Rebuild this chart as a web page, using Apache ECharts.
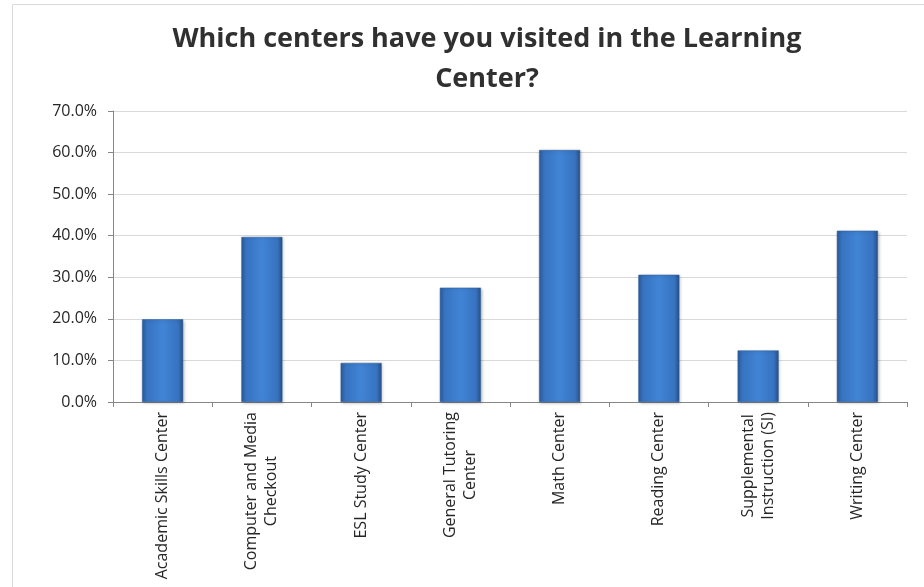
<!DOCTYPE html>
<html>
<head>
<meta charset="utf-8">
<script src="https://cdn.jsdelivr.net/npm/echarts@6/dist/echarts.min.js"></script>
<style>
html,body{margin:0;padding:0;background:#fff;}
#c{width:924px;height:587px;}
</style>
</head>
<body>
<div id="c"></div>
<script>
var categories = [
  "Academic Skills Center",
  "Computer and Media\nCheckout",
  "ESL Study Center",
  "General Tutoring\nCenter",
  "Math Center",
  "Reading Center",
  "Supplemental\nInstruction (SI)",
  "Writing Center"
];
var values = [19.9, 39.7, 9.4, 27.5, 60.6, 30.6, 12.4, 41.2];
var yTicks = [0, 10, 20, 30, 40, 50, 60, 70];
var titleText = "Which centers have you visited in the Learning\nCenter?";

var chart = echarts.init(document.getElementById('c'), null, {renderer: 'canvas'});
var barGrad = new echarts.graphic.LinearGradient(0, 0, 1, 0, [
  {offset: 0, color: '#2a5c9c'},
  {offset: 0.12, color: '#3773c0'},
  {offset: 0.5, color: '#4184d6'},
  {offset: 0.88, color: '#3773c0'},
  {offset: 1, color: '#284f86'}
]);
chart.setOption({
  animation: false,
  backgroundColor: '#ffffff',
  graphic: [{
    type: 'rect', silent: true, z: -1,
    shape: {x: 12.5, y: 4.5, width: 1000, height: 1000},
    style: {fill: 'none', stroke: '#d9d9d9', lineWidth: 1}
  }],
  title: {
    text: titleText,
    left: 482, top: 14, textAlign: 'center',
    textStyle: {fontFamily: 'Open Sans', fontWeight: 'bold', fontSize: 27, color: '#303030', lineHeight: 40}
  },
  grid: {left: 113, right: 17, top: 111, bottom: 185, containLabel: false},
  xAxis: {
    type: 'category',
    data: categories,
    axisLine: {show: true, lineStyle: {color: '#868686', width: 1}},
    axisTick: {show: true, alignWithLabel: false, length: 5, lineStyle: {color: '#868686'}},
    axisLabel: {
      rotate: 90, interval: 0, margin: 10,
      fontFamily: 'Open Sans', fontSize: 16, color: '#262626', lineHeight: 20, align: 'right',
      formatter: function (v) {
        return v.split('\n').map(function (s) { return '{c|' + s + '}'; }).join('\n');
      },
      rich: {
        c: {align: 'center', fontFamily: 'Open Sans', fontSize: 16, color: '#262626', lineHeight: 20}
      }
    },
    splitLine: {show: false}
  },
  yAxis: {
    type: 'value',
    min: 0, max: 70, interval: 10,
    axisLine: {show: true, lineStyle: {color: '#868686', width: 1}},
    axisTick: {show: true, length: 5, lineStyle: {color: '#868686'}},
    axisLabel: {
      margin: 16, fontFamily: 'Open Sans', fontSize: 16, color: '#262626',
      formatter: function (v) { return yTicks.indexOf(v) >= 0 ? v.toFixed(1) + '%' : ''; }
    },
    splitLine: {show: true, lineStyle: {color: '#d9d9d9', width: 1}}
  },
  series: [{
    type: 'bar',
    data: values,
    barWidth: 41,
    itemStyle: {
      color: barGrad,
      borderColor: '#2b5a94',
      borderWidth: 0.5,
      shadowColor: 'rgba(0,0,0,0.25)',
      shadowBlur: 3,
      shadowOffsetX: 1,
      shadowOffsetY: 1
    }
  }]
});
</script>
</body>
</html>
